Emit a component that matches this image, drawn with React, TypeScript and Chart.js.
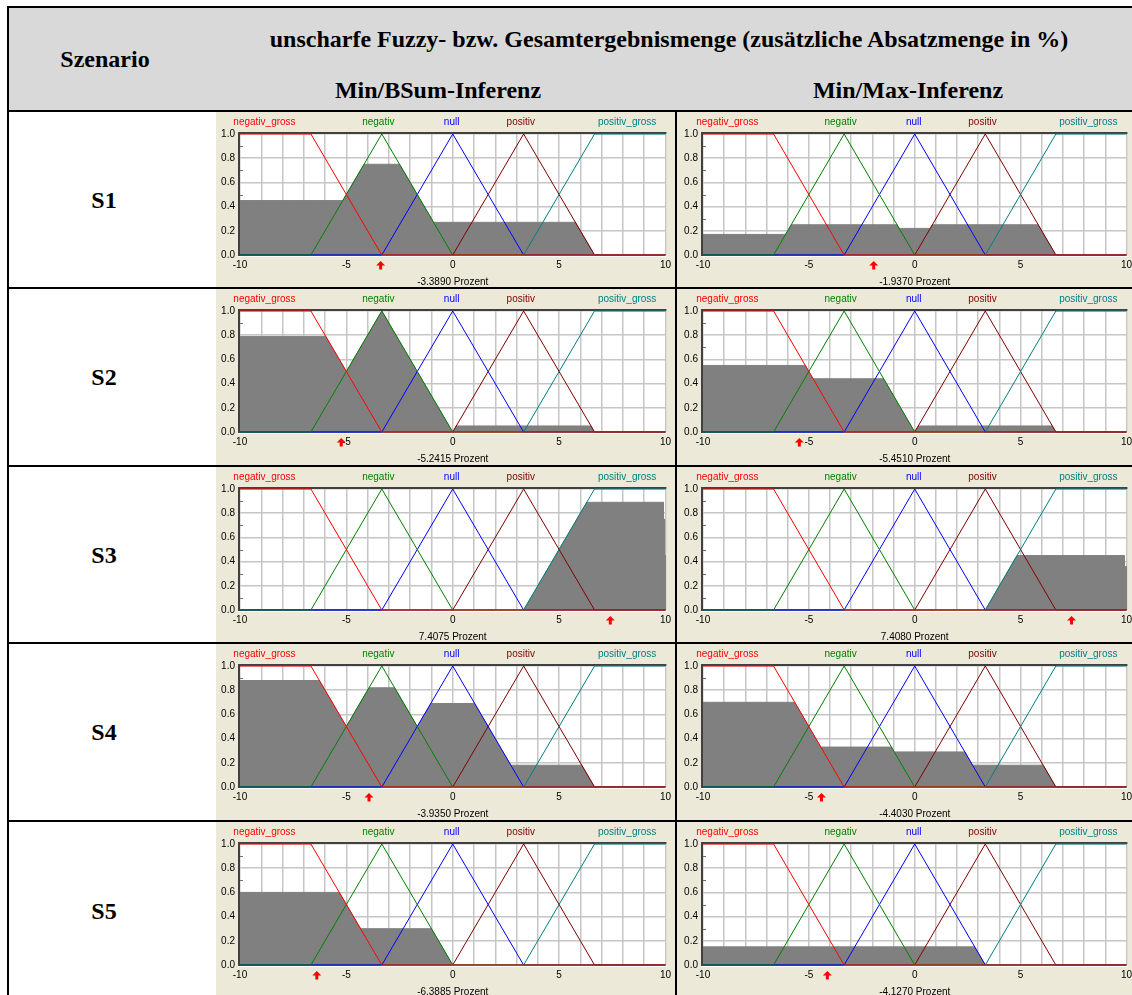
import React, { useEffect, useRef } from "react";
import { Chart, registerables } from "chart.js";

Chart.register(...registerables);
Chart.defaults.font.family = "'Liberation Sans', Arial, sans-serif";
Chart.defaults.font.size = 10;

// ---------- data ----------
const scenarios = ["S1", "S2", "S3", "S4", "S5"];
const methodTitles = ["Min/BSum-Inferenz", "Min/Max-Inferenz"];
const headerTitle = "unscharfe Fuzzy- bzw. Gesamtergebnismenge (zusätzliche Absatzmenge in %)";
const rowHeader = "Szenario";

const termNames = ["negativ_gross", "negativ", "null", "positiv", "positiv_gross"];
const termColors = ["#ff0000", "#008000", "#0000ff", "#800000", "#008080"];
const termLabelX = [-8.85, -3.5, -0.05, 3.2, 8.2];
const termOrder = [1, 2, 3, 5, 4];

const negGrossX = [-10, -6.667, -3.333, 10];
const negGrossY = [1, 1, 0, 0];
const negativX = [-10, -6.667, -3.333, 0, 10];
const negativY = [0, 0, 1, 0, 0];
const nullX = [-10, -3.333, 0, 3.333, 10];
const nullY = [0, 0, 1, 0, 0];
const positivX = [-10, 0, 3.333, 6.667, 10];
const positivY = [0, 0, 1, 0, 0];
const posGrossX = [-10, 3.333, 6.667, 10];
const posGrossY = [0, 0, 1, 1];

// aggregated output sets (gray areas)
const s1BSumX = [-10, -5.17, -4.17, -2.5, -0.9, 5.77, 6.667];
const s1BSumY = [0.45, 0.45, 0.75, 0.75, 0.27, 0.27, 0];
const s1MaxX = [-10, -6.1, -5.83, -0.83, -0.73, 0.73, 0.83, 5.83, 6.667];
const s1MaxY = [0.17, 0.17, 0.25, 0.25, 0.22, 0.22, 0.25, 0.25, 0];

const s2BSumX = [-10, -5.97, -5, -3.333, -0.17, 0, 0.17, 6.5, 6.667];
const s2BSumY = [0.79, 0.79, 0.5, 1, 0.05, 0, 0.05, 0.05, 0];
const s2MaxX = [-10, -5.17, -4.8, -1.47, -0.17, 0, 0.17, 6.5, 6.667];
const s2MaxY = [0.55, 0.55, 0.44, 0.44, 0.05, 0, 0.05, 0.05, 0];

const s3BSumX = [3.333, 6.3, 9.91, 9.91, 9.96, 9.96, 10, 10];
const s3BSumY = [0, 0.89, 0.89, 0.75, 0.75, 0.45, 0.45, 0];
const s3MaxX = [3.333, 4.83, 9.9, 9.9, 10, 10];
const s3MaxY = [0, 0.45, 0.45, 0.36, 0.36, 0];

const s4BSumX = [-10, -6.27, -5, -3.94, -2.73, -1.667, -1.03, 1.03, 2.73, 6.07, 6.667];
const s4BSumY = [0.88, 0.88, 0.5, 0.82, 0.82, 0.5, 0.69, 0.69, 0.18, 0.18, 0];
const s4MaxX = [-10, -5.67, -4.44, -1.1, -0.97, 2.37, 2.73, 6.07, 6.667];
const s4MaxY = [0.7, 0.7, 0.33, 0.33, 0.29, 0.29, 0.18, 0.18, 0];

const s5BSumX = [-10, -5.33, -4.33, -1.0, 0];
const s5BSumY = [0.6, 0.6, 0.3, 0.3, 0];
const s5MaxX = [-10, 2.83, 3.333];
const s5MaxY = [0.15, 0.15, 0];

const bsumX = [s1BSumX, s2BSumX, s3BSumX, s4BSumX, s5BSumX];
const bsumY = [s1BSumY, s2BSumY, s3BSumY, s4BSumY, s5BSumY];
const maxX = [s1MaxX, s2MaxX, s3MaxX, s4MaxX, s5MaxX];
const maxY = [s1MaxY, s2MaxY, s3MaxY, s4MaxY, s5MaxY];

const crispBSum = [-3.389, -5.2415, 7.4075, -3.935, -6.3885];
const crispMax = [-1.937, -5.451, 7.408, -4.403, -4.127];

// ---------- layout constants ----------
const ROW_TOPS = [111, 288, 466, 643, 821];
const ROW_BOTTOMS = [288, 466, 643, 821, 1000];
const CANVAS_H = 176;
const SERIF = "'Liberation Serif', 'Times New Roman', serif";

const termXs = [negGrossX, negativX, nullX, positivX, posGrossX];
const termYs = [negGrossY, negativY, nullY, positivY, posGrossY];
const pts = (xs: number[], ys: number[]) => xs.map((x, i) => ({ x, y: ys[i] }));

const panelPlugin = {
  id: "fuzzyPanel",
  beforeDraw(chart: any) {
    const { ctx, chartArea: a, width, height } = chart;
    ctx.save();
    ctx.fillStyle = "#ece9d8";
    ctx.fillRect(0, 0, width, height);
    ctx.fillStyle = "#ffffff";
    ctx.fillRect(a.left - 2, a.top - 2, a.right - a.left + 3, a.bottom - a.top + 4);
    ctx.restore();
  },
  beforeDatasetsDraw(chart: any) {
    const { ctx, chartArea: a } = chart;
    const ys = chart.scales.y;
    ctx.save();
    ctx.fillStyle = "#404040";
    ctx.fillRect(a.left - 2, a.top - 2, a.right - a.left + 3, 2);
    ctx.fillRect(a.left - 2, a.top - 2, 2, a.bottom - a.top + 3);
    ctx.strokeStyle = "#707070";
    ctx.lineWidth = 1;
    for (let i = 1; i < 10; i += 2) {
      const y = Math.round(ys.getPixelForValue(i / 10)) + 0.5;
      ctx.beginPath();
      ctx.moveTo(a.left, y);
      ctx.lineTo(a.left + 3, y);
      ctx.stroke();
    }
    ctx.restore();
  },
  afterDraw(chart: any) {
    const { ctx, chartArea: a } = chart;
    const xs = chart.scales.x;
    const crisp = chart.options.plugins.fuzzyPanel.crisp;
    ctx.save();
    ctx.font = "10px 'Liberation Sans', Arial, sans-serif";
    ctx.textAlign = "center";
    ctx.textBaseline = "middle";
    termNames.forEach((n, i) => {
      ctx.fillStyle = termColors[i];
      ctx.fillText(n, xs.getPixelForValue(termLabelX[i]), a.top - 12);
    });
    // crisp value arrow
    const cx = xs.getPixelForValue(crisp);
    const top = a.bottom + 6;
    ctx.fillStyle = "#ff0000";
    ctx.beginPath();
    ctx.moveTo(cx, top);
    ctx.lineTo(cx - 4.5, top + 4.5);
    ctx.lineTo(cx + 4.5, top + 4.5);
    ctx.closePath();
    ctx.fill();
    ctx.fillRect(cx - 1.5, top + 4, 3, 4.5);
    ctx.restore();
  },
};

function FuzzyChart({ gx, gy, crisp, width, yWidth }: { gx: number[]; gy: number[]; crisp: number; width: number; yWidth: number }) {
  const ref = useRef<HTMLCanvasElement>(null);
  useEffect(() => {
    const gridCfg = { color: "#c6c6c6", lineWidth: 1.5, drawTicks: false };
    const chart = new Chart(ref.current as HTMLCanvasElement, {
      type: "line",
      data: {
        datasets: [
          {
            label: "Ergebnis",
            data: pts(gx, gy),
            borderColor: "#808080",
            borderWidth: 1,
            backgroundColor: "#808080",
            fill: "origin",
            pointRadius: 0,
            order: 10,
            clip: 2,
          } as any,
          ...termNames.map((n, i) => ({
            label: n,
            data: pts(termXs[i], termYs[i]),
            borderColor: termColors[i],
            borderWidth: 1,
            pointRadius: 0,
            fill: false,
            order: termOrder[i],
            clip: 2,
          })),
        ],
      },
      options: {
        animation: false,
        responsive: false,
        maintainAspectRatio: false,
        events: [],
        layout: { padding: { top: 22, right: 6, left: 0, bottom: 0 } },
        plugins: {
          legend: { display: false },
          tooltip: { enabled: false },
          fuzzyPanel: { crisp },
        } as any,
        scales: {
          x: {
            type: "linear",
            min: -10,
            max: 10,
            ticks: {
              stepSize: 1,
              autoSkip: false,
              maxRotation: 0,
              padding: 4,
              color: "#000",
              font: { size: 10 },
              callback: (v: any) => (Number(v) % 5 === 0 ? String(v) : ""),
            },
            grid: gridCfg,
            border: { display: false },
            title: {
              display: true,
              text: crisp.toFixed(4) + " Prozent",
              color: "#000",
              font: { size: 10 },
              padding: { top: 0, bottom: 0 },
            },
            afterFit: (s: any) => {
              s.height = 33;
            },
          },
          y: {
            type: "linear",
            min: 0,
            max: 1,
            ticks: {
              stepSize: 0.2,
              padding: 5,
              color: "#000",
              font: { size: 10 },
              callback: (v: any) => Number(v).toFixed(1),
            },
            grid: gridCfg,
            border: { display: false },
            afterFit: (s: any) => {
              s.width = yWidth;
            },
          },
        },
      } as any,
      plugins: [panelPlugin as any],
    });
    return () => chart.destroy();
  }, []);
  return <canvas ref={ref} width={width} height={CANVAS_H} style={{ display: "block", width, height: CANVAS_H }} />;
}

const abs = (left: number, top: number, w: number, h: number, extra: any = {}) => ({
  position: "absolute" as const,
  left,
  top,
  width: w,
  height: h,
  ...extra,
});

const centered = (cx: number, cy: number, size: number) => ({
  position: "absolute" as const,
  left: cx,
  top: cy,
  transform: "translate(-50%, -50%)",
  fontFamily: SERIF,
  fontWeight: "bold" as const,
  fontSize: size,
  lineHeight: 1,
  whiteSpace: "nowrap" as const,
  color: "#000",
});

export default function App() {
  return (
    <div style={{ position: "fixed", left: 0, top: 0, width: 1132, height: 995, overflow: "hidden", background: "#fff" }}>
      {/* header */}
      <div style={abs(8, 7, 1124, 104, { background: "#d9d9d9" })} />
      <div style={abs(7, 6, 1125, 2, { background: "#000" })} />
      <div style={abs(7, 6, 2, 989, { background: "#000" })} />
      <div style={centered(105, 59, 24)}>{rowHeader}</div>
      <div style={centered(669, 39, 24)}>{headerTitle}</div>
      <div style={centered(438, 90, 24)}>{methodTitles[0]}</div>
      <div style={centered(908, 90, 24)}>{methodTitles[1]}</div>

      {scenarios.map((s, i) => {
        const top = ROW_TOPS[i];
        const h = ROW_BOTTOMS[i] - top;
        return (
          <React.Fragment key={s}>
            <div style={abs(216, top + 1, 459, h, { background: "#ece9d8" })} />
            <div style={abs(677, top + 1, 455, h, { background: "#ece9d8" })} />
            <div style={abs(216, top + 1, 459, CANVAS_H)}>
              <FuzzyChart gx={bsumX[i]} gy={bsumY[i]} crisp={crispBSum[i]} width={459} yWidth={24} />
            </div>
            <div style={abs(679, top + 1, 457, CANVAS_H)}>
              <FuzzyChart gx={maxX[i]} gy={maxY[i]} crisp={crispMax[i]} width={457} yWidth={24} />
            </div>
            <div style={centered(104, (top + ROW_BOTTOMS[i]) / 2, 24)}>{s}</div>
            <div style={abs(7, top - 1, 1125, 2, { background: "#000" })} />
          </React.Fragment>
        );
      })}
      <div style={abs(675, 111, 2, 884, { background: "#000" })} />
    </div>
  );
}
